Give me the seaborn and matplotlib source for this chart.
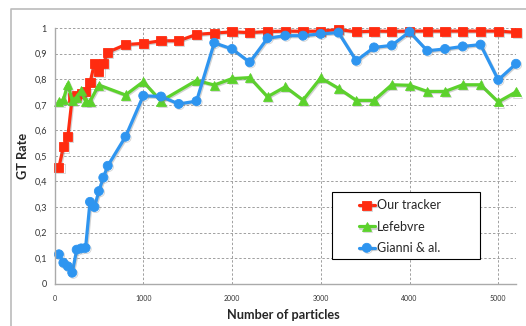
import numpy as np
import pandas as pd
import seaborn as sns
import matplotlib.pyplot as plt
import matplotlib.patheffects as pe
from matplotlib.patches import Rectangle
from matplotlib.lines import Line2D
from matplotlib.ticker import FuncFormatter

# data
x_full = [50, 100, 150, 200, 250, 300, 350, 400, 450, 500, 550, 600,
          800, 1000, 1200, 1400, 1600, 1800, 2000, 2200, 2400, 2600, 2800,
          3000, 3200, 3400, 3600, 3800, 4000, 4200, 4400, 4600, 4800, 5000, 5200]
ours = [0.455, 0.535, 0.575, 0.73, 0.735, 0.745, 0.75, 0.785, 0.862, 0.83, 0.86, 0.905,
        0.935, 0.94, 0.95, 0.95, 0.975, 0.98, 0.985, 0.982, 0.986, 0.988, 0.987,
        0.988, 0.994, 0.985, 0.988, 0.987, 0.988, 0.988, 0.988, 0.988, 0.988, 0.988, 0.983]
gianni = [0.115, 0.082, 0.068, 0.043, 0.133, 0.138, 0.14, 0.32, 0.3, 0.362, 0.415, 0.461,
          0.575, 0.735, 0.732, 0.703, 0.714, 0.942, 0.918, 0.866, 0.96, 0.97, 0.97,
          0.977, 0.982, 0.872, 0.924, 0.932, 0.985, 0.911, 0.918, 0.928, 0.935, 0.797, 0.86]
x_lef = [50, 100, 150, 200, 250, 300, 350, 400, 500,
         800, 1000, 1200, 1600, 1800, 2000, 2200, 2400, 2600, 2800,
         3000, 3200, 3400, 3600, 3800, 4000, 4200, 4400, 4600, 4800, 5000, 5200]
lefebvre = [0.712, 0.72, 0.78, 0.716, 0.73, 0.755, 0.713, 0.713, 0.777,
            0.738, 0.79, 0.714, 0.795, 0.777, 0.802, 0.806, 0.731, 0.77, 0.718,
            0.805, 0.764, 0.717, 0.717, 0.778, 0.776, 0.752, 0.752, 0.778, 0.778, 0.711, 0.75]

names = ["Our tracker", "Lefebvre", "Gianni & al."]
df = pd.concat([
    pd.DataFrame({"n": x_full, "rate": ours, "method": names[0]}),
    pd.DataFrame({"n": x_lef, "rate": lefebvre, "method": names[1]}),
    pd.DataFrame({"n": x_full, "rate": gianni, "method": names[2]}),
])

colors = {names[0]: "#FF2B10", names[1]: "#5CD22C", names[2]: "#2E95F0"}
marks = {names[0]: "s", names[1]: "^", names[2]: "o"}

sns.set_style("white")
plt.rcParams["font.family"] = ["Lato", "DejaVu Sans"]

fig = plt.figure(figsize=(5.26, 3.26), dpi=100)
ax = fig.add_axes([54.5 / 526, 42.3 / 326, 461.5 / 526, 255.7 / 326])

sns.lineplot(data=df, x="n", y="rate", hue="method", style="method",
             palette=colors, markers=marks, dashes=False, estimator=None,
             linewidth=2.3, markersize=6.5, markeredgewidth=0.6, ax=ax, legend="brief")
for ln in ax.lines:
    ln.set_markeredgecolor(ln.get_color())
    ln.set_clip_on(False)
    ln.set_path_effects([pe.SimpleLineShadow(offset=(0.8, -0.8), shadow_color="gray", alpha=0.35),
                         pe.Normal()])

ax.set_xlim(0, 5200)
ax.set_ylim(0, 1)
ax.set_xticks([0, 1000, 2000, 3000, 4000, 5000])
ax.set_yticks(np.arange(0, 1.01, 0.1))
ax.yaxis.set_major_formatter(FuncFormatter(
    lambda v, p: "0" if abs(v) < 1e-9 else ("1" if abs(v - 1) < 1e-9 else f"{v:.1f}".replace(".", ","))))
ax.grid(True, color="#a0a0a0", linestyle=(0, (2.5, 2)), linewidth=0.7)
ax.set_axisbelow(True)
for s in ["top", "right"]:
    ax.spines[s].set_visible(False)
for s in ["left", "bottom"]:
    ax.spines[s].set_color("#aaaaaa")
    ax.spines[s].set_linewidth(1)
ax.tick_params(axis="y", labelsize=6.5, colors="#333333", length=2.5, color="#aaaaaa", pad=3)
ax.tick_params(axis="x", labelsize=5, colors="#333333", length=4, direction="inout", color="#aaaaaa", pad=6)

ax.set_xlabel("Number of particles", fontsize=9.2, fontweight="bold")
ax.set_ylabel("GT Rate", fontsize=9.2, fontweight="bold")
ax.xaxis.set_label_coords(0.497, -0.10)
ax.yaxis.set_label_coords(-0.055, 0.5)

# legend box
ax.add_patch(Rectangle((0.6007, 0.0966), 0.3213, 0.2632, transform=ax.transAxes,
                       facecolor="white", edgecolor="black", linewidth=0.8, zorder=5))
h, l = ax.get_legend_handles_labels()
leg = ax.legend(h, l, loc="center", bbox_to_anchor=(0.748, 0.2225), frameon=False,
                fontsize=9, handlelength=1.3, handletextpad=0.15, labelspacing=0.75)
leg.set_zorder(6)

# outer frame
fig.add_artist(Line2D([11 / 526, 11 / 526, 1.0], [0.0, 1 - 9 / 326, 1 - 9 / 326],
                      color="#bbbbbb", linewidth=1.2))

fig.savefig("out.png", dpi=100)
